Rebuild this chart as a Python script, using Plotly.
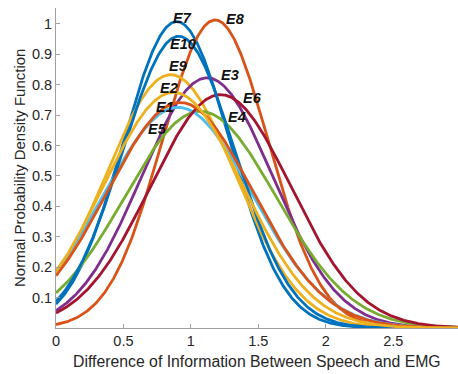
import numpy as np
import plotly.graph_objects as go

# Curve parameters (mean, std), in plotting order
names  = ["E7", "E8", "E9", "E3", "E4", "E5", "E6", "E10", "E1", "E2"]
means  = [0.895, 1.18, 0.85, 1.12, 1.07, 0.905, 1.22, 0.91, 0.92, 0.87]
sigmas = [0.396, 0.394, 0.479, 0.485, 0.56, 0.55, 0.52, 0.416, 0.538, 0.515]
colors = ["#0072BD", "#D95319", "#EDB120", "#7E2F8E", "#77AC30",
          "#4DBEEE", "#A2142F", "#0072BD", "#D95319", "#EDB120"]

# Label anchor points in data coordinates
label_names = ["E7", "E8", "E10", "E9", "E2", "E1", "E5", "E3", "E6", "E4"]
label_x = [0.934, 1.327, 0.941, 0.904, 0.838, 0.808, 0.749, 1.290, 1.453, 1.342]
label_y = [1.020, 1.017, 0.935, 0.862, 0.790, 0.728, 0.654, 0.833, 0.757, 0.695]

xtick_vals = [0, 0.5, 1, 1.5, 2, 2.5, 3]
xtick_text = ["0", "0.5", "1", "1.5", "2", "2.5", "3"]
ytick_vals = [0.1, 0.2, 0.3, 0.4, 0.5, 0.6, 0.7, 0.8, 0.9, 1.0]
ytick_text = ["0.1", "0.2", "0.3", "0.4", "0.5", "0.6", "0.7", "0.8", "0.9", "1"]

x = np.linspace(0, 3, 601)

fig = go.Figure()
for n, m, s, c in zip(names, means, sigmas, colors):
    y = np.exp(-0.5 * ((x - m) / s) ** 2) / (s * np.sqrt(2 * np.pi))
    fig.add_trace(go.Scatter(x=x, y=y, mode="lines", name=n,
                             line=dict(color=c, width=2.8), showlegend=False,
                             hoverinfo="skip"))

font_family = "Liberation Sans, Arial"
text_color = "#262626"
axis_color = "#a0a0a0"

for n, lx, ly in zip(label_names, label_x, label_y):
    fig.add_annotation(x=lx, y=ly, xref="x", yref="y", text="<b><i>%s</i></b>" % n,
                       showarrow=False, font=dict(family=font_family, size=14.5, color="#111111"))

fig.add_annotation(x=0.5, y=-0.105, xref="paper", yref="paper",
                   xanchor="center", yanchor="middle",
                   text="Difference of Information Between Speech and EMG", showarrow=False,
                   font=dict(family=font_family, size=15.8, color=text_color))
fig.add_annotation(x=-0.092, y=0.5, xref="paper", yref="paper",
                   xanchor="center", yanchor="middle", textangle=-90,
                   text="Normal Probability Density Function", showarrow=False,
                   font=dict(family=font_family, size=15, color=text_color))

fig.update_xaxes(range=[0, 2.98], tickvals=xtick_vals, ticktext=xtick_text,
                 ticks="inside", ticklen=4, tickcolor=axis_color, tickwidth=1,
                 showline=True, linecolor=axis_color, linewidth=1,
                 showgrid=False, zeroline=False,
                 tickfont=dict(family=font_family, size=14.5, color=text_color))
fig.update_yaxes(range=[0, 1.052], tickvals=ytick_vals, ticktext=ytick_text,
                 ticks="inside", ticklen=4, tickcolor=axis_color, tickwidth=1,
                 showline=True, linecolor=axis_color, linewidth=1,
                 showgrid=False, zeroline=False,
                 tickfont=dict(family=font_family, size=14.5, color=text_color))

fig.update_layout(
    width=458, height=374,
    margin=dict(l=56, r=0, t=8, b=46),
    paper_bgcolor="white", plot_bgcolor="white",
)

fig.write_html("out.html")
